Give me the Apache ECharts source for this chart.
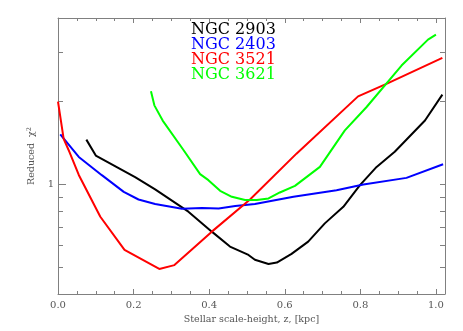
<!DOCTYPE html>
<html>
<head>
<meta charset="utf-8">
<script src="https://cdn.jsdelivr.net/npm/echarts@6/dist/echarts.min.js"></script>
<style>
  html, body { margin: 0; padding: 0; background: #fff; }
  #main { width: 463px; height: 331px; }
</style>
</head>
<body>
<div id="main"></div>
<script>
// reduced chi^2 against stellar scale-height (kpc)
var names = ['NGC 2903', 'NGC 2403', 'NGC 3521', 'NGC 3621'];
var colors = ['#000000', '#0000ff', '#ff0000', '#00ff00'];

var ngc2903X = [0.075, 0.100, 0.204, 0.257, 0.345, 0.407, 0.455, 0.504, 0.521, 0.557, 0.579, 0.618, 0.662, 0.706, 0.755, 0.799, 0.843, 0.891, 0.971, 1.017];
var ngc2903Chi = [1.45, 1.27, 1.06, 0.957, 0.795, 0.673, 0.594, 0.554, 0.532, 0.514, 0.520, 0.559, 0.619, 0.721, 0.828, 0.992, 1.155, 1.31, 1.70, 2.11];

var ngc2403X = [0.006, 0.055, 0.116, 0.174, 0.213, 0.257, 0.328, 0.381, 0.425, 0.469, 0.521, 0.623, 0.737, 0.808, 0.922, 1.019];
var ngc2403Chi = [1.515, 1.255, 1.078, 0.938, 0.880, 0.847, 0.815, 0.819, 0.817, 0.833, 0.847, 0.900, 0.951, 0.997, 1.054, 1.181];

var ngc3521X = [0.0, 0.015, 0.028, 0.055, 0.112, 0.176, 0.268, 0.308, 0.407, 0.508, 0.631, 0.794, 0.869, 1.017];
var ngc3521Chi = [1.99, 1.46, 1.33, 1.08, 0.762, 0.578, 0.493, 0.509, 0.673, 0.880, 1.29, 2.08, 2.31, 2.87];

var ngc3621X = [0.246, 0.255, 0.277, 0.332, 0.376, 0.398, 0.429, 0.460, 0.495, 0.526, 0.557, 0.587, 0.627, 0.693, 0.759, 0.816, 0.909, 0.979, 1.000];
var ngc3621Chi = [2.17, 1.93, 1.70, 1.33, 1.087, 1.034, 0.946, 0.900, 0.876, 0.876, 0.888, 0.933, 0.986, 1.155, 1.566, 1.90, 2.69, 3.34, 3.48];

// axis ticks
var xMajor = [0, 0.2, 0.4, 0.6, 0.8, 1.0];
var xMinor = [0.05, 0.1, 0.15, 0.25, 0.3, 0.35, 0.45, 0.5, 0.55, 0.65, 0.7, 0.75, 0.85, 0.9, 0.95];
var yLabelled = [1];
var yOther = [0.5, 0.6, 0.7, 0.8, 0.9, 2, 3];

var xs = [ngc2903X, ngc2403X, ngc3521X, ngc3621X];
var ys = [ngc2903Chi, ngc2403Chi, ngc3521Chi, ngc3621Chi];

// y is drawn on log10 scale
function lg(v) { return Math.log10(v); }

var frame = '#808080';
var textCol = '#555555';
var font = 'DejaVu Serif';

function xAxisDef(pos, ticks, len, withLine, withLabels) {
  return {
    type: 'value', position: pos, min: 0, max: 1.024,
    axisLine: { show: withLine, onZero: false, lineStyle: { color: frame, width: 1 } },
    axisTick: { show: true, inside: true, length: len, customValues: ticks, lineStyle: { color: frame } },
    axisLabel: withLabels ? {
      show: true, customValues: xMajor, margin: 6, color: textCol, fontFamily: font, fontSize: 10,
      formatter: function (v) { return v.toFixed(1); }
    } : { show: false },
    splitLine: { show: false }
  };
}

function yAxisDef(pos, ticks, len, withLine, withLabels) {
  return {
    type: 'value', position: pos, min: lg(0.4), max: lg(4),
    axisLine: { show: withLine, onZero: false, lineStyle: { color: frame, width: 1 } },
    axisTick: { show: true, inside: true, length: len, customValues: ticks.map(lg), lineStyle: { color: frame } },
    axisLabel: withLabels ? {
      show: true, customValues: yLabelled.map(lg), margin: 4, color: textCol, fontFamily: font, fontSize: 10,
      formatter: function (v) { return String(Math.round(Math.pow(10, v))); }
    } : { show: false },
    splitLine: { show: false }
  };
}

var xBottom = xAxisDef('bottom', xMajor, 5, true, true);
xBottom.name = 'Stellar scale-height, z, [kpc]';
xBottom.nameLocation = 'middle';
xBottom.nameGap = 17;
xBottom.nameTextStyle = { color: textCol, fontFamily: font, fontSize: 9.5 };

var yLeft = yAxisDef('left', yLabelled, 8, true, true);
yLeft.name = '{n|Reduced  χ}{s|2}';
yLeft.nameLocation = 'middle';
yLeft.nameGap = 16;
yLeft.nameTextStyle = {
  color: textCol, fontFamily: font, fontSize: 9.5,
  rich: {
    n: { color: textCol, fontFamily: font, fontSize: 9.5, lineHeight: 12 },
    s: { color: textCol, fontFamily: font, fontSize: 6.5, verticalAlign: 'top', lineHeight: 12 }
  }
};

var series = names.map(function (n, i) {
  return {
    name: n, type: 'line', xAxisIndex: 0, yAxisIndex: 0,
    showSymbol: false, symbol: 'none',
    lineStyle: { color: colors[i], width: 2 },
    itemStyle: { color: colors[i] },
    data: xs[i].map(function (x, k) { return [x, lg(ys[i][k])]; })
  };
});

var chart = echarts.init(document.getElementById('main'), null, { renderer: 'canvas' });
chart.setOption({
  animation: false,
  backgroundColor: '#ffffff',
  grid: { left: 58, right: 18, top: 18, bottom: 37, outerBoundsMode: 'none' },
  legend: {
    left: 181, top: 17, orient: 'vertical', icon: 'none',
    itemWidth: 0, itemHeight: 0, itemGap: -1, selectedMode: false,
    textStyle: { fontFamily: font, fontSize: 16, lineHeight: 15 },
    data: names.map(function (n, i) { return { name: n, textStyle: { color: colors[i] } }; })
  },
  xAxis: [
    xBottom,
    xAxisDef('bottom', xMinor, 3, false, false),
    xAxisDef('top', xMajor, 5, true, false),
    xAxisDef('top', xMinor, 3, false, false)
  ],
  yAxis: [
    yLeft,
    yAxisDef('left', yOther, 5, false, false),
    yAxisDef('right', yLabelled.concat(yOther), 5, true, false)
  ],
  series: series
});
</script>
</body>
</html>
